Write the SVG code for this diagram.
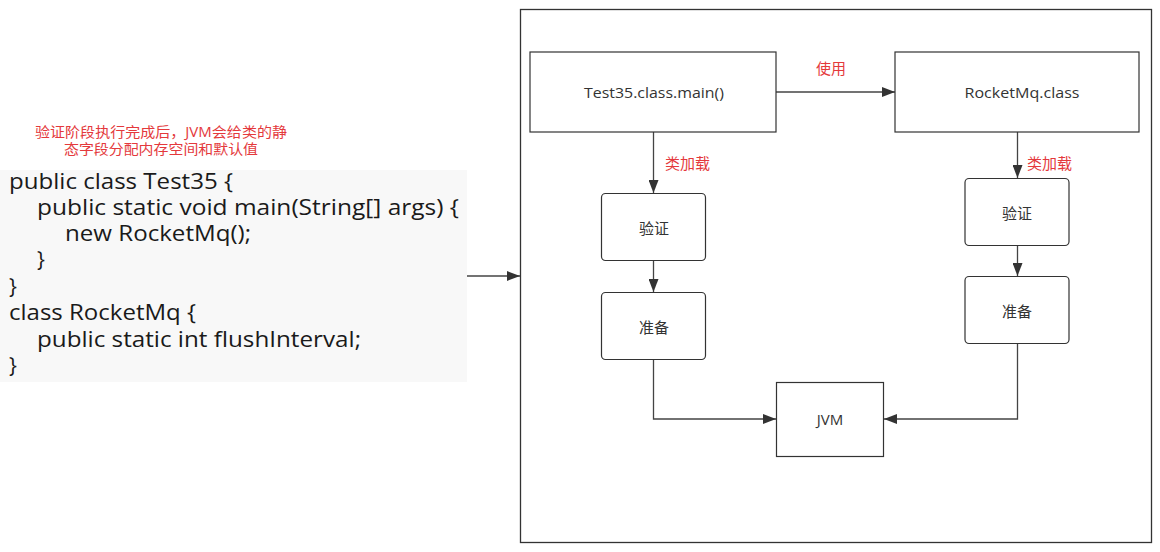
<svg xmlns="http://www.w3.org/2000/svg" width="1160" height="552" viewBox="0 0 1160 552">
<defs>
<style>
.bg{fill:#ffffff}
.frame{fill:none;stroke:#333;stroke-width:1.3}
.box{fill:#fff;stroke:#333;stroke-width:1.2}
.edge{fill:none;stroke:#444;stroke-width:1.3}
.lbl{font-family:"Open Sans","Noto Sans","Noto Sans CJK SC",sans-serif;font-size:15px;fill:#333;text-anchor:middle;dominant-baseline:central}
.red{font-family:"Open Sans","Noto Sans","Noto Sans CJK SC",sans-serif;font-size:15px;fill:#e4393c;dominant-baseline:central}
.note{font-family:"Open Sans","Noto Sans","Noto Sans CJK SC",sans-serif;font-size:14px;fill:#e4393c}
.code{font-family:"Open Sans","Noto Sans",sans-serif;font-size:21px;fill:#1a1a1a}
</style>
<marker id="arr" viewBox="0 0 13 10" refX="13" refY="5" markerWidth="13" markerHeight="10" markerUnits="userSpaceOnUse" orient="auto">
<path d="M0,0 L13,5 L0,10 Z" fill="#333"/>
</marker>
</defs>
<rect class="bg" x="0" y="0" width="1160" height="552"/>

<g id="annotation">
<text class="note" x="35" y="137" textLength="252" lengthAdjust="spacingAndGlyphs">验证阶段执行完成后，JVM会给类的静</text>
<text class="note" x="64" y="154" textLength="194" lengthAdjust="spacingAndGlyphs">态字段分配内存空间和默认值</text>
</g>

<g id="code">
<rect x="0" y="170" width="467" height="212" fill="#f8f8f8"/>
<text class="code" x="9" y="189" textLength="224" lengthAdjust="spacingAndGlyphs">public class Test35 {</text>
<text class="code" x="37" y="215" textLength="422" lengthAdjust="spacingAndGlyphs">public static void main(String[] args) {</text>
<text class="code" x="65" y="241" textLength="186" lengthAdjust="spacingAndGlyphs">new RocketMq();</text>
<text class="code" x="37" y="267">}</text>
<text class="code" x="9" y="294">}</text>
<text class="code" x="9" y="320" textLength="187" lengthAdjust="spacingAndGlyphs">class RocketMq {</text>
<text class="code" x="37" y="347" textLength="324" lengthAdjust="spacingAndGlyphs">public static int flushInterval;</text>
<text class="code" x="9" y="373">}</text>
</g>

<g id="frame">
<rect class="frame" x="520.5" y="9.5" width="631" height="533"/>
</g>

<g id="connectors">
<path class="edge" d="M467,276 H520" marker-end="url(#arr)"/>
<path class="edge" d="M776,92 H895" marker-end="url(#arr)"/>
<path class="edge" d="M653.5,132 V193" marker-end="url(#arr)"/>
<path class="edge" d="M653.5,260 V292" marker-end="url(#arr)"/>
<path class="edge" d="M653.5,359 V419 H776" marker-end="url(#arr)"/>
<path class="edge" d="M1017.5,132 V178" marker-end="url(#arr)"/>
<path class="edge" d="M1017.5,245 V276" marker-end="url(#arr)"/>
<path class="edge" d="M1017.5,343 V419 H884" marker-end="url(#arr)"/>
<text class="red" x="831" y="68" text-anchor="middle">使用</text>
<text class="red" x="665" y="163">类加载</text>
<text class="red" x="1027" y="163">类加载</text>
</g>

<g id="test35">
<rect class="box" x="530" y="52" width="246" height="80"/>
<text class="lbl" x="654" y="92" textLength="140" lengthAdjust="spacingAndGlyphs">Test35.class.main()</text>
</g>

<g id="rocketmq">
<rect class="box" x="895" y="52" width="244" height="80"/>
<text class="lbl" x="1022" y="92" textLength="115" lengthAdjust="spacingAndGlyphs">RocketMq.class</text>
</g>

<g id="verify-left">
<rect class="box" x="601.5" y="193.5" width="104" height="67" rx="4"/>
<text class="lbl" x="654" y="228">验证</text>
</g>

<g id="prepare-left">
<rect class="box" x="601.5" y="292.5" width="104" height="67" rx="4"/>
<text class="lbl" x="654" y="327">准备</text>
</g>

<g id="verify-right">
<rect class="box" x="965" y="178.5" width="104" height="67" rx="4"/>
<text class="lbl" x="1017" y="213">验证</text>
</g>

<g id="prepare-right">
<rect class="box" x="965" y="276.5" width="104" height="67" rx="4"/>
<text class="lbl" x="1017" y="311">准备</text>
</g>

<g id="jvm">
<rect class="box" x="776.5" y="382.5" width="107" height="74"/>
<text class="lbl" x="830" y="419">JVM</text>
</g>
</svg>
